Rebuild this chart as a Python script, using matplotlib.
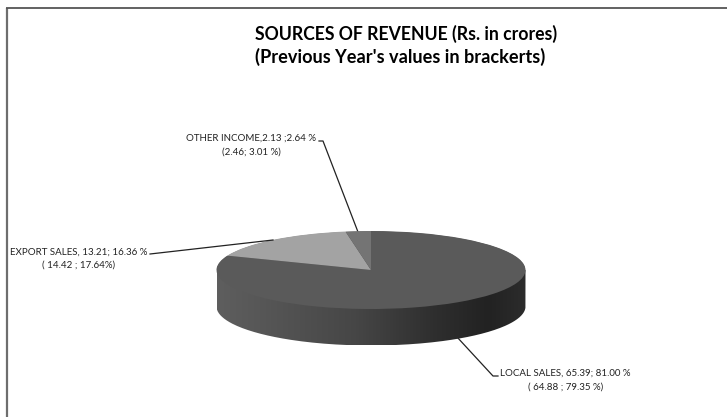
import numpy as np
import matplotlib
matplotlib.use("Agg")
import matplotlib.pyplot as plt
from matplotlib.patches import PathPatch
from matplotlib.path import Path
from matplotlib.colors import LinearSegmentedColormap

categories = ["LOCAL SALES", "EXPORT SALES", "OTHER INCOME"]
values = [81.00, 16.36, 2.64]
colors = ["#5a5a5a", "#a3a3a3", "#747474"]
title_lines = ["SOURCES OF REVENUE (Rs. in crores)", "(Previous Year's values in brackerts)"]
label_local = ["LOCAL SALES, 65.39; 81.00 %", "( 64.88 ; 79.35 %)"]
label_export = ["EXPORT SALES, 13.21; 16.36 %", "( 14.42 ; 17.64%)"]
label_other = ["OTHER INCOME,2.13 ;2.64 %", "(2.46; 3.01 %)"]

W, H = 727, 417
plt.rcParams['font.family'] = ['Lato', 'DejaVu Sans']
fig = plt.figure(figsize=(W/100, H/100), dpi=100)

# full-figure pixel overlay
ov = fig.add_axes([0, 0, 1, 1], zorder=1)
ov.set_xlim(0, W); ov.set_ylim(H, 0); ov.axis('off')
ov.plot([6.5, 6.5], [H + 2, 8], color='#6e6e6e', lw=1.6, solid_capstyle='butt')
ov.plot([5.5, W + 2], [8, 8], color='#555555', lw=1.3, solid_capstyle='butt')

cx, cy, rx, ry, depth = 371, 270, 154.5, 39, 36.5

# side wall, reaching under the top face so no seam shows
t = np.linspace(0, 2*np.pi, 400)
top = np.column_stack([cx + (rx - 0.5)*np.cos(t), cy + (ry - 0.5)*np.sin(t)])
b = np.linspace(0, np.pi, 200)
wall = np.column_stack([cx + rx*np.cos(b), cy + ry*np.sin(b) + depth])
verts = np.vstack([[[cx + rx, cy]], wall, [[cx - rx, cy]], [[cx + rx, cy]]])
side = PathPatch(Path(verts), fc='none', ec='none')
ov.add_patch(side)
band = PathPatch(Path(top), fc='#4a4a4a', ec='none', zorder=2)
ov.add_patch(band)
cmap = LinearSegmentedColormap.from_list('s', [(0, '#5e5e5e'), (0.12, '#585858'), (0.45, '#464646'),
                                               (0.7, '#2f2f2f'), (0.88, '#222222'), (1, '#2c2c2c')])
im = ov.imshow(np.linspace(0, 1, 256)[None, :], cmap=cmap, aspect='auto', vmin=0, vmax=1,
               extent=(cx-rx, cx+rx, cy+ry+depth, cy), zorder=2)
im.set_clip_path(side)
ov.set_xlim(0, W); ov.set_ylim(H, 0)

# leader lines behind the pie
lc = '#222222'
ov.plot([319, 323, 358], [141, 141, 232], color=lc, lw=0.9, zorder=1)
ov.plot([457, 493, 498], [337, 376, 376], color=lc, lw=0.9, zorder=1)

# top face
pad = 1.25
ax = fig.add_axes([(cx - pad*rx)/W, 1 - (cy + pad*ry)/H, 2*pad*rx/W, 2*pad*ry/H], zorder=3)
ax.patch.set_alpha(0)
ax.pie(values, colors=colors, startangle=90, counterclock=False, radius=1,
       wedgeprops=dict(lw=0))
ax.set_xlim(-pad, pad); ax.set_ylim(-pad, pad); ax.set_aspect('auto')

ov2 = fig.add_axes([0, 0, 1, 1], zorder=4)
ov2.set_xlim(0, W); ov2.set_ylim(H, 0); ov2.axis('off')
ov2.plot([150, 273], [254, 240], color=lc, lw=0.9)

ov2.text(406, 34, title_lines[0], ha='center', va='center', fontsize=12.7, fontweight='bold', color='black')
ov2.text(400.5, 57, title_lines[1], ha='center', va='center', fontsize=13.1, fontweight='bold', color='black')

fs = 7.0
tc = '#222222'
for lbl, x, y1, y2 in [(label_other, 251.5, 138.5, 152), (label_export, 79, 252, 265), (label_local, 565.5, 373.5, 387)]:
    ov2.text(x, y1, lbl[0], ha='center', va='center', fontsize=fs, color=tc)
    ov2.text(x, y2, lbl[1], ha='center', va='center', fontsize=fs, color=tc)

fig.savefig('out.png', dpi=100, facecolor='white')
